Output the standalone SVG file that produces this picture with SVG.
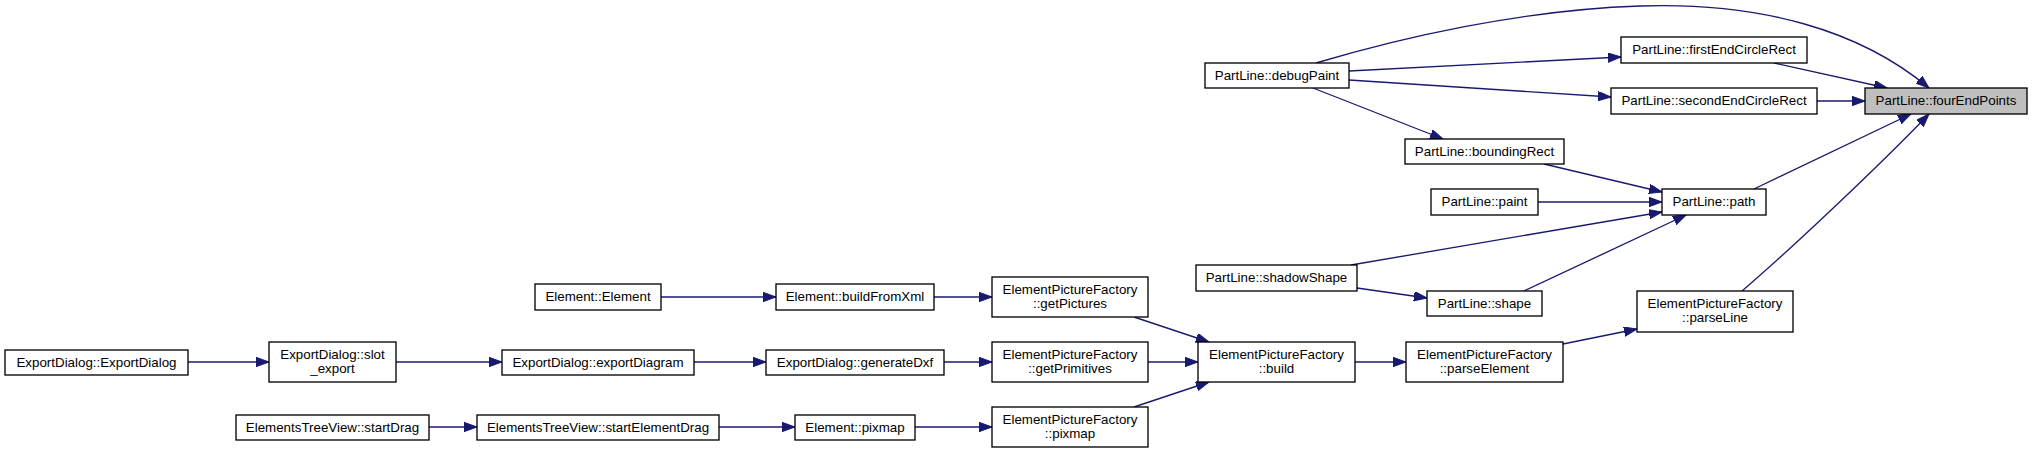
<svg xmlns="http://www.w3.org/2000/svg" width="2032" height="454" viewBox="0 0 2032 454">
<style>
.n rect{fill:#ffffff;stroke:#000000;stroke-width:1.33}
.n.hl rect{fill:#bfbfbf}
.n text{font-family:"Liberation Sans",Arial,sans-serif;font-size:13.33px;fill:#000000;text-anchor:middle}
.e path{fill:none;stroke:#191970;stroke-width:1.33;marker-end:url(#ah)}
</style>
<defs>
<marker id="ah" markerUnits="userSpaceOnUse" markerWidth="14" markerHeight="10" refX="13" refY="4.7" orient="auto">
<path d="M0,0 L13,4.7 L0,9.4 z" fill="#191970" stroke="#191970" stroke-width="1"/>
</marker>
</defs>
<rect width="2032" height="454" fill="#ffffff"/>
<g id="edges" class="e">
<path d="M1316,63 C1400,38 1520,10 1640,6 C1760,2 1860,30 1929,88"/>
<path d="M1349,71 L1621,57"/>
<path d="M1349,80 L1611,97"/>
<path d="M1313,88 L1443,139"/>
<path d="M1774,63 L1887,88"/>
<path d="M1817,101 L1865,101"/>
<path d="M1544,164 L1662,192"/>
<path d="M1538,202 L1662,202"/>
<path d="M1351,265 L1662,212"/>
<path d="M1357,288 L1427,298"/>
<path d="M1524,291 L1686,215"/>
<path d="M1754,189 L1911,114"/>
<path d="M1742,291 C1790,250 1880,165 1929,114"/>
<path d="M661,297 L776,297"/>
<path d="M934,297 L992,297"/>
<path d="M1134,317 L1209,342"/>
<path d="M188,362 L269,362"/>
<path d="M396,362 L502,362"/>
<path d="M694,362 L766,362"/>
<path d="M944,362 L992,362"/>
<path d="M1148,362 L1198,362"/>
<path d="M429,427 L477,427"/>
<path d="M719,427 L795,427"/>
<path d="M915,427 L992,427"/>
<path d="M1134,407 L1209,382"/>
<path d="M1355,362 L1406,362"/>
<path d="M1563,344 L1637,329"/>
</g>
<g id="fourEndPoints" class="n hl"><rect x="1865" y="88" width="162" height="26"/><text x="1946" y="104.6">PartLine::fourEndPoints</text></g>
<g id="debugPaint" class="n"><rect x="1205" y="63" width="144" height="25"/><text x="1277" y="79.6">PartLine::debugPaint</text></g>
<g id="firstEndCircleRect" class="n"><rect x="1621" y="37" width="186" height="26"/><text x="1714" y="53.6">PartLine::firstEndCircleRect</text></g>
<g id="secondEndCircleRect" class="n"><rect x="1611" y="88" width="206" height="26"/><text x="1714" y="104.6">PartLine::secondEndCircleRect</text></g>
<g id="boundingRect" class="n"><rect x="1405" y="139" width="159" height="25"/><text x="1484.5" y="155.6">PartLine::boundingRect</text></g>
<g id="paint" class="n"><rect x="1431" y="189" width="107" height="26"/><text x="1484.5" y="205.6">PartLine::paint</text></g>
<g id="path" class="n"><rect x="1662" y="189" width="104" height="26"/><text x="1714" y="205.6">PartLine::path</text></g>
<g id="shadowShape" class="n"><rect x="1196" y="265" width="161" height="26"/><text x="1276.5" y="281.6">PartLine::shadowShape</text></g>
<g id="shape" class="n"><rect x="1427" y="291" width="115" height="25"/><text x="1484.5" y="307.6">PartLine::shape</text></g>
<g id="parseLine" class="n"><rect x="1637" y="291" width="156" height="41"/><text x="1715" y="307.8">ElementPictureFactory</text><text x="1715" y="322.2">::parseLine</text></g>
<g id="parseElement" class="n"><rect x="1406" y="342" width="157" height="40"/><text x="1484.5" y="358.5">ElementPictureFactory</text><text x="1484.5" y="373">::parseElement</text></g>
<g id="build" class="n"><rect x="1198" y="342" width="157" height="40"/><text x="1276.5" y="358.5">ElementPictureFactory</text><text x="1276.5" y="373">::build</text></g>
<g id="getPictures" class="n"><rect x="992" y="277" width="156" height="40"/><text x="1070" y="293.5">ElementPictureFactory</text><text x="1070" y="308">::getPictures</text></g>
<g id="getPrimitives" class="n"><rect x="992" y="342" width="156" height="40"/><text x="1070" y="358.5">ElementPictureFactory</text><text x="1070" y="373">::getPrimitives</text></g>
<g id="epfPixmap" class="n"><rect x="992" y="407" width="156" height="40"/><text x="1070" y="423.5">ElementPictureFactory</text><text x="1070" y="438">::pixmap</text></g>
<g id="elementElement" class="n"><rect x="535" y="284" width="126" height="26"/><text x="598" y="300.6">Element::Element</text></g>
<g id="buildFromXml" class="n"><rect x="776" y="284" width="158" height="26"/><text x="855" y="300.6">Element::buildFromXml</text></g>
<g id="exportDiagram" class="n"><rect x="502" y="350" width="192" height="25"/><text x="598" y="366.6">ExportDialog::exportDiagram</text></g>
<g id="generateDxf" class="n"><rect x="766" y="350" width="178" height="25"/><text x="855" y="366.6">ExportDialog::generateDxf</text></g>
<g id="startElementDrag" class="n"><rect x="477" y="415" width="242" height="25"/><text x="598" y="431.6">ElementsTreeView::startElementDrag</text></g>
<g id="elementPixmap" class="n"><rect x="795" y="415" width="120" height="25"/><text x="855" y="431.6">Element::pixmap</text></g>
<g id="exportDialog" class="n"><rect x="5" y="350" width="183" height="25"/><text x="96.5" y="366.6">ExportDialog::ExportDialog</text></g>
<g id="slotExport" class="n"><rect x="269" y="342" width="127" height="40"/><text x="332.5" y="358.5">ExportDialog::slot</text><text x="332.5" y="373">_export</text></g>
<g id="startDrag" class="n"><rect x="236" y="415" width="193" height="25"/><text x="332.5" y="431.6">ElementsTreeView::startDrag</text></g>
</svg>
